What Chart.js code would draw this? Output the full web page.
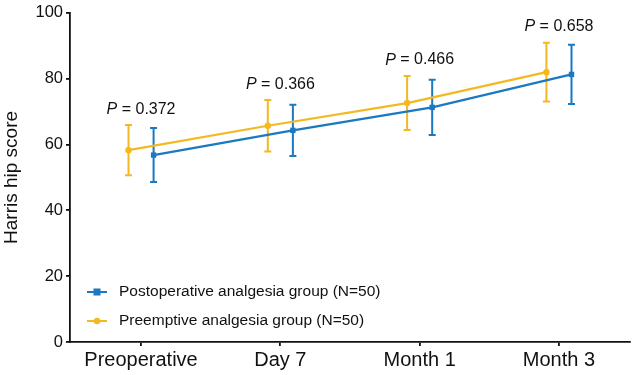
<!DOCTYPE html>
<html>
<head>
<meta charset="utf-8">
<script src="https://cdn.jsdelivr.net/npm/chart.js@4.4.0/dist/chart.umd.min.js"></script>
<style>
  html, body { margin: 0; padding: 0; background: #fff; }
  #wrap { width: 634px; height: 375px; }
</style>
</head>
<body>
<div id="wrap"><canvas id="hhs"></canvas></div>
<script>
// data (mean and SD per time point)
var timePoints = ["Preoperative", "Day 7", "Month 1", "Month 3"];
var postopMean = [56.8, 64.3, 71.3, 81.3];
var postopSD = [8.2, 7.8, 8.4, 9.0];
var preemptMean = [58.3, 65.7, 72.6, 82.0];
var preemptSD = [7.6, 7.8, 8.2, 8.9];
var pValues = ["0.372", "0.366", "0.466", "0.658"];
var yTicks = [0, 20, 40, 60, 80, 100];

var FONT = "'Liberation Sans', Arial, sans-serif";
var BLUE = "#1b79c2";
var YELLOW = "#f4b820";
var SHIFT = 0.09; // side-by-side dodge of the two groups

function points(means, dx) {
  return means.map(function (m, i) { return { x: i + dx, y: m }; });
}

// error bars drawn through the scales
var errorBars = {
  id: "errorBars",
  beforeDatasetsDraw: function (chart) {
    var ctx = chart.ctx;
    var xs = chart.scales.x, ys = chart.scales.y;
    chart.data.datasets.forEach(function (ds) {
      ctx.save();
      ctx.strokeStyle = ds.borderColor;
      ctx.lineWidth = 2;
      ds.data.forEach(function (p, i) {
        var px = xs.getPixelForValue(p.x);
        var top = ys.getPixelForValue(p.y + ds.sd[i]);
        var bot = ys.getPixelForValue(p.y - ds.sd[i]);
        ctx.beginPath();
        ctx.moveTo(px, top); ctx.lineTo(px, bot);
        ctx.moveTo(px - 3.5, top); ctx.lineTo(px + 3.5, top);
        ctx.moveTo(px - 3.5, bot); ctx.lineTo(px + 3.5, bot);
        ctx.stroke();
      });
      ctx.restore();
    });
  }
};

// P value labels and legend inside the plot
var annotations = {
  id: "annotations",
  afterDraw: function (chart) {
    var ctx = chart.ctx;
    var xs = chart.scales.x, ys = chart.scales.y;
    ctx.save();
    ctx.fillStyle = "#111";
    ctx.textBaseline = "middle";
    pValues.forEach(function (p, i) {
      var hi = Math.max(postopMean[i] + postopSD[i], preemptMean[i] + preemptSD[i]);
      var cy = ys.getPixelForValue(hi) - 16;
      var cx = xs.getPixelForValue(i);
      ctx.font = "italic 16px " + FONT;
      var w1 = ctx.measureText("P").width;
      ctx.font = "16px " + FONT;
      var rest = " = " + p;
      var w2 = ctx.measureText(rest).width;
      var x0 = cx - (w1 + w2) / 2;
      ctx.textAlign = "left";
      ctx.font = "italic 16px " + FONT;
      ctx.fillText("P", x0, cy);
      ctx.font = "16px " + FONT;
      ctx.fillText(rest, x0 + w1, cy);
    });

    // legend
    var rows = [292, 321];
    chart.data.datasets.forEach(function (ds, k) {
      var y = rows[k];
      ctx.strokeStyle = ds.borderColor;
      ctx.fillStyle = ds.borderColor;
      ctx.lineWidth = 2;
      ctx.beginPath();
      ctx.moveTo(87, y); ctx.lineTo(107, y);
      ctx.stroke();
      if (ds.pointStyle === "rect") {
        ctx.fillRect(93.5, y - 3.5, 7, 7);
      } else {
        ctx.beginPath();
        ctx.arc(97, y, 3.2, 0, Math.PI * 2);
        ctx.fill();
      }
      ctx.fillStyle = "#111";
      ctx.font = "15.5px " + FONT;
      ctx.textAlign = "left";
      ctx.fillText(ds.label, 119, y);
    });
    ctx.restore();
  }
};

new Chart(document.getElementById("hhs"), {
  type: "line",
  data: {
    datasets: [
      {
        label: "Postoperative analgesia group (N=50)",
        data: points(postopMean, SHIFT),
        sd: postopSD,
        borderColor: BLUE,
        backgroundColor: BLUE,
        borderWidth: 2.2,
        pointStyle: "rect",
        pointRadius: 3.8,
        pointBorderWidth: 0
      },
      {
        label: "Preemptive analgesia group (N=50)",
        data: points(preemptMean, -SHIFT),
        sd: preemptSD,
        borderColor: YELLOW,
        backgroundColor: YELLOW,
        borderWidth: 2.2,
        pointStyle: "circle",
        pointRadius: 3.2,
        pointBorderWidth: 0
      }
    ]
  },
  options: {
    responsive: true,
    maintainAspectRatio: false,
    animation: false,
    layout: { padding: { top: 10, right: 2, left: 0, bottom: 0 } },
    plugins: {
      legend: { display: false },
      tooltip: { enabled: false }
    },
    scales: {
      x: {
        type: "linear",
        min: -0.51,
        max: 3.51,
        afterBuildTicks: function (scale) {
          scale.ticks = timePoints.map(function (t, i) { return { value: i }; });
        },
        afterFit: function (scale) { scale.height = 33; },
        ticks: {
          callback: function (v) { return timePoints[v]; },
          color: "#111",
          font: { family: FONT, size: 20 },
          padding: 2,
          maxRotation: 0,
          autoSkip: false
        },
        grid: { drawOnChartArea: false, drawTicks: true, tickLength: 4, color: "#111", lineWidth: 1.8 },
        border: { color: "#111", width: 1.8 }
      },
      y: {
        min: 0,
        max: 100,
        afterBuildTicks: function (scale) {
          scale.ticks = yTicks.map(function (v) { return { value: v }; });
        },
        afterFit: function (scale) { scale.width = 70; },
        ticks: {
          color: "#111",
          font: { family: FONT, size: 16.5 },
          padding: 3
        },
        grid: { drawOnChartArea: false, drawTicks: true, tickLength: 4, color: "#111", lineWidth: 1.8 },
        border: { color: "#111", width: 1.8 },
        title: {
          display: true,
          text: "Harris hip score",
          color: "#111",
          font: { family: FONT, size: 19 },
          padding: { top: 0, bottom: 0 }
        }
      }
    }
  },
  plugins: [errorBars, annotations]
});
</script>
</body>
</html>
